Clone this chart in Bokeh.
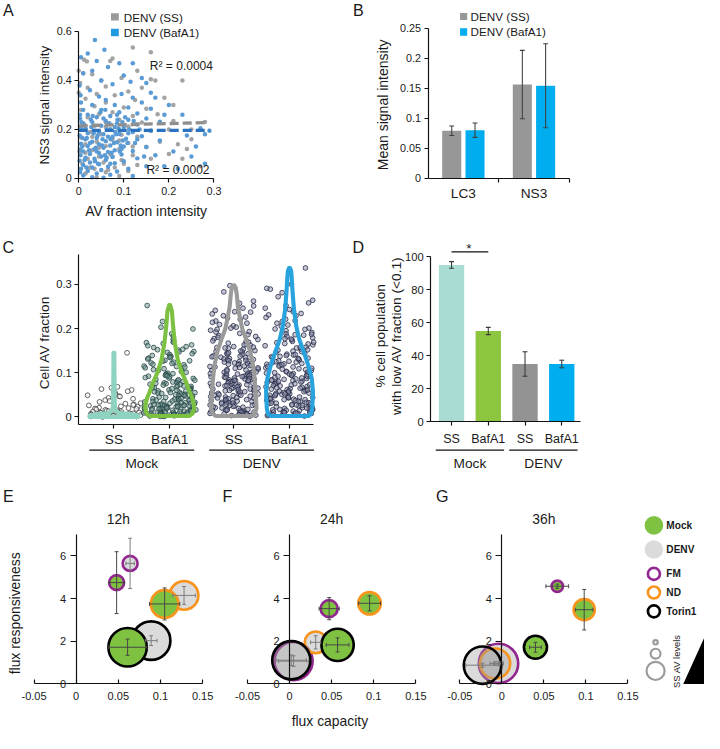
import math
from bokeh.plotting import figure
from bokeh.models import (Range1d, Label, FixedTicker, NumeralTickFormatter,
                          BoxAnnotation, PolyAnnotation, CustomJSTickFormatter)
from bokeh.layouts import column, row
from bokeh.embed import file_html
from bokeh.resources import INLINE
from bokeh.core.properties import value

# ======================= DATA =======================
# --- Panel A: per-cell scatter (AV fraction vs NS3 signal) ---
a_series = ["DENV (SS)", "DENV (BafA1)"]
a_ss_x = [0.120, 0.160, 0.012, 0.018, 0.075, 0.070, 0.000, 0.010, 0.030, 0.130,
          0.170, 0.230, 0.160, 0.095, 0.050, 0.003, 0.020, 0.060, 0.140, 0.110,
          0.000, 0.040, 0.080, 0.190, 0.015, 0.125, 0.060, 0.210, 0.035, 0.100,
          0.150, 0.005, 0.075, 0.045, 0.175, 0.120, 0.020, 0.210, 0.090, 0.060,
          0.140, 0.010, 0.035, 0.110, 0.250, 0.200, 0.070, 0.160, 0.025, 0.050,
          0.095, 0.130, 0.005, 0.240, 0.075, 0.180, 0.040, 0.110, 0.015, 0.060,
          0.150, 0.090, 0.030, 0.002, 0.200, 0.070, 0.120, 0.045, 0.020, 0.160,
          0.095, 0.230, 0.055, 0.008, 0.130, 0.270, 0.080, 0.035, 0.110, 0.060,
          0.015, 0.090, 0.040, 0.250, 0.220, 0.280, 0.030, 0.060, 0.090, 0.120,
          0.015, 0.045, 0.075, 0.100, 0.025, 0.065]
a_ss_y = [0.535, 0.515, 0.485, 0.478, 0.490, 0.480, 0.440, 0.430, 0.425, 0.440,
          0.400, 0.400, 0.405, 0.410, 0.400, 0.390, 0.370, 0.375, 0.370, 0.355,
          0.350, 0.345, 0.340, 0.330, 0.325, 0.320, 0.310, 0.300, 0.295, 0.290,
          0.285, 0.280, 0.270, 0.262, 0.262, 0.255, 0.250, 0.235, 0.240, 0.230,
          0.228, 0.225, 0.215, 0.212, 0.160, 0.200, 0.200, 0.195, 0.190, 0.180,
          0.178, 0.170, 0.168, 0.120, 0.160, 0.150, 0.150, 0.145, 0.140, 0.132,
          0.128, 0.120, 0.115, 0.110, 0.100, 0.100, 0.095, 0.090, 0.080, 0.080,
          0.075, 0.080, 0.065, 0.060, 0.055, 0.050, 0.045, 0.040, 0.030, 0.025,
          0.020, 0.010, 0.005, 0.200, 0.140, 0.230, 0.170, 0.210, 0.155, 0.130,
          0.105, 0.125, 0.090, 0.060, 0.045, 0.035]
a_baf_x = [0.036, 0.057, 0.020, 0.040, 0.120, 0.005, 0.065, 0.090, 0.010, 0.030,
           0.100, 0.140, 0.150, 0.115, 0.050, 0.075, 0.002, 0.025, 0.160, 0.095,
           0.120, 0.004, 0.045, 0.170, 0.060, 0.200, 0.005, 0.140, 0.080, 0.030,
           0.110, 0.160, 0.010, 0.050, 0.090, 0.130, 0.270, 0.190, 0.020, 0.070,
           0.040, 0.150, 0.003, 0.110, 0.060, 0.180, 0.030, 0.085, 0.012, 0.130,
           0.050, 0.100, 0.240, 0.005, 0.070, 0.160, 0.035, 0.120, 0.020, 0.090,
           0.055, 0.002, 0.140, 0.075, 0.040, 0.105, 0.015, 0.180, 0.060, 0.030,
           0.085, 0.125, 0.005, 0.045, 0.070, 0.210, 0.020, 0.100, 0.150, 0.055,
           0.035, 0.003, 0.080, 0.120, 0.010, 0.065, 0.045, 0.025, 0.095, 0.170,
           0.004, 0.050, 0.075, 0.015, 0.130, 0.035, 0.060, 0.002, 0.100, 0.025,
           0.080, 0.190, 0.045, 0.010, 0.150, 0.065, 0.030, 0.005, 0.110, 0.050,
           0.020, 0.085, 0.003, 0.040, 0.280, 0.220, 0.260, 0.070, 0.010, 0.030,
           0.055, 0.120, 0.280, 0.230, 0.250, 0.015, 0.045, 0.065, 0.025, 0.080,
           0.110, 0.095, 0.040, 0.070, 0.130, 0.008, 0.055, 0.085, 0.290,
           0.006, 0.018, 0.028, 0.038, 0.048, 0.058, 0.068, 0.078, 0.088, 0.098,
           0.013, 0.023, 0.033, 0.043, 0.053, 0.063, 0.073, 0.083, 0.093, 0.103,
           0.008, 0.027, 0.042, 0.062, 0.081, 0.097, 0.112,
           0.017, 0.036, 0.052, 0.071, 0.091, 0.108, 0.122,
           0.003, 0.031, 0.059, 0.086, 0.135, 0.145]
a_baf_y = [0.565, 0.525, 0.510, 0.480, 0.470, 0.495, 0.455, 0.470, 0.430, 0.440,
           0.420, 0.410, 0.390, 0.395, 0.400, 0.385, 0.380, 0.360, 0.350, 0.345,
           0.330, 0.340, 0.335, 0.330, 0.320, 0.300, 0.310, 0.310, 0.300, 0.300,
           0.290, 0.285, 0.280, 0.280, 0.270, 0.265, 0.205, 0.260, 0.260, 0.255,
           0.250, 0.245, 0.245, 0.240, 0.235, 0.232, 0.230, 0.225, 0.220, 0.220,
           0.215, 0.210, 0.175, 0.205, 0.200, 0.195, 0.195, 0.190, 0.185, 0.182,
           0.180, 0.175, 0.172, 0.170, 0.165, 0.162, 0.160, 0.155, 0.152, 0.150,
           0.148, 0.145, 0.142, 0.140, 0.135, 0.110, 0.132, 0.130, 0.128, 0.125,
           0.120, 0.118, 0.115, 0.112, 0.110, 0.108, 0.104, 0.100, 0.098, 0.095,
           0.095, 0.090, 0.088, 0.085, 0.082, 0.080, 0.075, 0.072, 0.070, 0.065,
           0.062, 0.050, 0.058, 0.055, 0.050, 0.048, 0.045, 0.040, 0.040, 0.035,
           0.030, 0.028, 0.025, 0.020, 0.060, 0.040, 0.130, 0.015, 0.012, 0.005,
           0.003, 0.010, 0.180, 0.260, 0.090, 0.205, 0.190, 0.170, 0.145, 0.210,
           0.185, 0.120, 0.110, 0.060, 0.160, 0.165, 0.245, 0.260, 0.195,
           0.230, 0.165, 0.210, 0.125, 0.270, 0.095, 0.225, 0.145, 0.205, 0.155,
           0.075, 0.115, 0.185, 0.060, 0.160, 0.200, 0.105, 0.180, 0.135, 0.250,
           0.130, 0.240, 0.175, 0.085, 0.190, 0.230, 0.200,
           0.045, 0.070, 0.135, 0.160, 0.110, 0.145, 0.235,
           0.260, 0.255, 0.280, 0.240, 0.200, 0.090]
a_fit_ss = [0.215, 0.046]    # intercept, slope of the trend line
a_fit_baf = [0.196, 0.0]
a_r2 = ["R² = 0.0004", "R² = 0.0002"]

# --- Panel B: mean signal intensity ---
b_cats = ["LC3", "NS3"]
b_ss = [0.079, 0.156]
b_ss_err = [0.008, 0.057]
b_baf = [0.080, 0.154]
b_baf_err = [0.012, 0.070]

# --- Panel C: cell AV fraction (violin + points) ---
c_groups = ["Mock", "Mock", "DENV", "DENV"]
c_treat = ["SS", "BafA1", "SS", "BafA1"]
c_mock_ss = [0.145, 0.068, 0.066, 0.063, 0.061, 0.058, 0.057, 0.054, 0.051, 0.049,
             0.047, 0.046, 0.043, 0.041, 0.038, 0.036, 0.034, 0.031, 0.030, 0.028,
             0.027, 0.026, 0.024, 0.023, 0.021, 0.020, 0.019, 0.018, 0.017, 0.016,
             0.015, 0.014, 0.013, 0.012, 0.012, 0.011, 0.010, 0.010, 0.009, 0.008,
             0.008, 0.007, 0.007, 0.006, 0.006, 0.005, 0.005, 0.004, 0.004, 0.003,
             0.003, 0.002, 0.002, 0.001, 0.001, 0.000]
c_mock_baf = [0.252, 0.216, 0.203, 0.199, 0.188, 0.183, 0.176, 0.171, 0.169, 0.166,
              0.163, 0.159, 0.157, 0.153, 0.151, 0.148, 0.146, 0.143, 0.141, 0.137,
              0.136, 0.133, 0.131, 0.128, 0.127, 0.124, 0.122, 0.121, 0.118, 0.115,
              0.114, 0.111, 0.109, 0.107, 0.105, 0.103, 0.101, 0.099, 0.097, 0.096,
              0.094, 0.092, 0.091, 0.088, 0.087, 0.085, 0.083, 0.082, 0.080, 0.078,
              0.077, 0.075, 0.074, 0.072, 0.071, 0.069, 0.068, 0.066, 0.065, 0.063,
              0.062, 0.061, 0.059, 0.058, 0.056, 0.055, 0.054, 0.052, 0.051, 0.050,
              0.048, 0.047, 0.046, 0.045, 0.043, 0.042, 0.041, 0.040, 0.039, 0.038,
              0.037, 0.035, 0.034, 0.033, 0.032, 0.031, 0.030, 0.029, 0.028, 0.027,
              0.026, 0.025, 0.025, 0.024, 0.023, 0.022, 0.021, 0.021, 0.020, 0.019,
              0.018, 0.018, 0.017, 0.016, 0.015, 0.015, 0.014, 0.013, 0.012, 0.012,
              0.011, 0.010, 0.010, 0.009, 0.009, 0.008, 0.007, 0.007, 0.006, 0.006,
              0.005, 0.005, 0.004, 0.004, 0.003, 0.003, 0.002, 0.002, 0.001, 0.001,
              0.168, 0.161, 0.152, 0.147, 0.139, 0.134, 0.126, 0.119, 0.113, 0.106,
              0.098, 0.093, 0.089, 0.084, 0.079, 0.076, 0.073, 0.070, 0.067, 0.064,
              0.060, 0.057, 0.053, 0.049, 0.046, 0.044, 0.041, 0.038, 0.036, 0.033,
              0.031, 0.029, 0.027, 0.026, 0.024, 0.022, 0.020, 0.019, 0.017, 0.016,
              0.014, 0.013, 0.011, 0.010, 0.008, 0.007, 0.006, 0.005, 0.004, 0.003,
              0.062, 0.055, 0.048, 0.042, 0.035, 0.028, 0.023, 0.018, 0.012, 0.009]
c_denv_ss = [0.297, 0.283, 0.262, 0.257, 0.251, 0.246, 0.241, 0.237, 0.233, 0.229,
             0.226, 0.221, 0.217, 0.214, 0.209, 0.206, 0.201, 0.198, 0.196, 0.192,
             0.189, 0.186, 0.184, 0.180, 0.177, 0.175, 0.172, 0.169, 0.167, 0.164,
             0.162, 0.159, 0.157, 0.155, 0.153, 0.150, 0.148, 0.147, 0.144, 0.142,
             0.141, 0.138, 0.136, 0.135, 0.132, 0.131, 0.129, 0.127, 0.125, 0.124,
             0.122, 0.120, 0.118, 0.117, 0.115, 0.113, 0.112, 0.110, 0.108, 0.107,
             0.105, 0.103, 0.102, 0.100, 0.099, 0.097, 0.096, 0.094, 0.093, 0.091,
             0.090, 0.088, 0.087, 0.085, 0.084, 0.082, 0.081, 0.079, 0.078, 0.076,
             0.075, 0.073, 0.072, 0.070, 0.069, 0.067, 0.066, 0.064, 0.063, 0.061,
             0.060, 0.058, 0.057, 0.055, 0.054, 0.052, 0.051, 0.049, 0.048, 0.046,
             0.045, 0.043, 0.042, 0.040, 0.039, 0.037, 0.036, 0.034, 0.033, 0.031,
             0.030, 0.028, 0.027, 0.025, 0.024, 0.022, 0.021, 0.019, 0.018, 0.016,
             0.015, 0.013, 0.012, 0.011, 0.010, 0.009, 0.008, 0.007, 0.006, 0.005,
             0.004, 0.003, 0.002,
             0.238, 0.224, 0.212, 0.203, 0.193, 0.182, 0.171, 0.163, 0.156, 0.149,
             0.143, 0.137, 0.130, 0.126, 0.121, 0.116, 0.111, 0.106, 0.101, 0.098,
             0.095, 0.092, 0.089, 0.086, 0.083, 0.080, 0.077, 0.074, 0.071, 0.068,
             0.065, 0.062, 0.059, 0.056, 0.053, 0.050, 0.047, 0.044, 0.041, 0.038,
             0.035, 0.032, 0.029, 0.026, 0.023, 0.020, 0.017, 0.014, 0.011, 0.008,
             0.005, 0.003, 0.134, 0.119, 0.104, 0.091, 0.076, 0.063, 0.049, 0.037,
             0.026, 0.015, 0.007, 0.158, 0.145, 0.128, 0.114, 0.097, 0.083, 0.069]
c_denv_baf = [0.337, 0.300, 0.291, 0.289, 0.272, 0.264, 0.252, 0.246, 0.243, 0.238,
              0.234, 0.229, 0.225, 0.221, 0.216, 0.212, 0.208, 0.205, 0.201, 0.198,
              0.195, 0.191, 0.188, 0.185, 0.182, 0.179, 0.177, 0.174, 0.171, 0.168,
              0.166, 0.163, 0.161, 0.158, 0.156, 0.153, 0.151, 0.149, 0.146, 0.144,
              0.142, 0.140, 0.137, 0.135, 0.133, 0.131, 0.129, 0.127, 0.125, 0.123,
              0.121, 0.119, 0.117, 0.115, 0.113, 0.111, 0.109, 0.107, 0.105, 0.103,
              0.101, 0.099, 0.098, 0.096, 0.094, 0.092, 0.091, 0.089, 0.087, 0.086,
              0.084, 0.082, 0.081, 0.079, 0.077, 0.076, 0.074, 0.072, 0.071, 0.069,
              0.068, 0.066, 0.064, 0.063, 0.061, 0.060, 0.058, 0.057, 0.055, 0.054,
              0.052, 0.051, 0.049, 0.048, 0.046, 0.045, 0.043, 0.042, 0.040, 0.039,
              0.037, 0.036, 0.034, 0.033, 0.031, 0.030, 0.028, 0.027, 0.025, 0.024,
              0.022, 0.021, 0.019, 0.018, 0.016, 0.015, 0.013, 0.012, 0.011, 0.010,
              0.009, 0.008, 0.007, 0.006, 0.005, 0.004, 0.003,
              0.281, 0.258, 0.231, 0.218, 0.199, 0.186, 0.176, 0.165, 0.157, 0.148,
              0.139, 0.132, 0.126, 0.120, 0.114, 0.108, 0.102, 0.097, 0.093, 0.088,
              0.085, 0.080, 0.075, 0.073, 0.070, 0.067, 0.062, 0.059, 0.056, 0.053,
              0.050, 0.047, 0.044, 0.041, 0.038, 0.035, 0.032, 0.029, 0.026, 0.023,
              0.020, 0.017, 0.014, 0.011, 0.008, 0.005, 0.002, 0.141, 0.124, 0.110,
              0.095, 0.083, 0.065, 0.052, 0.039, 0.027, 0.016, 0.009, 0.152, 0.136,
              0.118, 0.100, 0.078, 0.061, 0.044, 0.031, 0.018, 0.010, 0.187, 0.169]
c_values = [c_mock_ss, c_mock_baf, c_denv_ss, c_denv_baf]
# violin outlines: levels and relative density (half-width)
c_vio_y = [[0.0, 0.003, 0.006, 0.009, 0.013, 0.02, 0.05, 0.1, 0.145],
           [0.002, 0.008, 0.02, 0.03, 0.045, 0.057, 0.072, 0.087, 0.1, 0.116, 0.13,
            0.146, 0.165, 0.182, 0.2, 0.219, 0.24, 0.253],
           [0.002, 0.008, 0.02, 0.057, 0.087, 0.116, 0.146, 0.175, 0.197, 0.219, 0.249,
            0.278, 0.292, 0.298],
           [0.002, 0.008, 0.02, 0.057, 0.087, 0.116, 0.146, 0.175, 0.204, 0.241, 0.278,
            0.315, 0.33, 0.337]]
c_vio_d = [[1.0, 1.0, 0.74, 0.22, 0.09, 0.045, 0.03, 0.022, 0.018],
           [0.81, 0.94, 1.0, 0.98, 0.91, 0.81, 0.72, 0.61, 0.5, 0.41, 0.33, 0.28, 0.22,
            0.185, 0.15, 0.12, 0.09, 0.02],
           [0.74, 0.87, 0.93, 0.89, 0.85, 0.79, 0.68, 0.51, 0.36, 0.27, 0.17, 0.12, 0.08,
            0.02],
           [0.78, 0.89, 0.93, 0.96, 0.91, 0.77, 0.59, 0.4, 0.28, 0.185, 0.13, 0.09, 0.067,
            0.02]]

# --- Panel D: % cells with low AV fraction ---
d_groups = ["Mock", "Mock", "DENV", "DENV"]
d_treat = ["SS", "BafA1", "SS", "BafA1"]
d_vals = [95.0, 55.0, 35.0, 35.0]
d_err = [2.0, 2.2, 7.4, 2.3]

# --- Panels E-G: flux capacity vs responsiveness ---
t_labels = ["12h", "24h", "36h"]
treatments = ["FM", "ND", "Torin1"]
mock_x = [[0.048, 0.105, 0.061], [0.047, 0.095, 0.057], [0.066, 0.098, 0.040]]
mock_y = [[4.75, 3.75, 1.72], [3.53, 3.78, 1.83], [4.58, 3.48, 1.72]]
mock_xerr = [[0.009, 0.018, 0.023], [0.012, 0.013, 0.0135], [0.0135, 0.0105, 0.007]]
mock_yerr = [[1.45, 0.75, 0.38], [0.52, 0.35, 0.33], [0.10, 0.95, 0.23]]
mock_av = [[0.81, 2.40, 4.41], [1.00, 1.65, 3.19], [0.51, 1.48, 1.73]]
denv_x = [[0.064, 0.128, 0.089], [0.0047, 0.031, 0.002], [-0.004, -0.008, -0.023]]
denv_y = [[5.65, 4.15, 2.03], [1.07, 1.95, 1.11], [0.96, 0.96, 0.88]]
denv_xerr = [[0.005, 0.0135, 0.007], [0.018, 0.006, 0.018], [0.006, 0.006, 0.020]]
denv_yerr = [[1.18, 0.42, 0.23], [0.25, 0.31, 0.25], [0.08, 0.08, 0.10]]
denv_av = [[0.81, 2.56, 4.41], [4.35, 1.56, 4.35], [4.62, 2.79, 4.20]]

# ======================= STYLE / LAYOUT =======================
S = 704 / 720
FONT = "Liberation Sans"
TXT = "#1a1a1a"
AX = "#111111"
ROW2_BOTTOM = 488


class Panel:
    def __init__(self, X0, Y0, X1, Y1, xcal, ycal):
        (p1, v1), (p2, v2) = xcal
        self.kx = (v2 - v1) / (p2 - p1)
        self.ox = v1 - p1 * self.kx
        (q1, w1), (q2, w2) = ycal
        self.ky = (w2 - w1) / (q2 - q1)
        self.oy = w1 - q1 * self.ky
        w = round(S * X1) - round(S * X0)
        h = round(S * Y1) - round(S * Y0)
        p = figure(width=w, height=h,
                   x_range=Range1d(self.dx(X0), self.dx(X1)),
                   y_range=Range1d(self.dy(Y1), self.dy(Y0)),
                   output_backend="svg", toolbar_location=None, min_border=0)
        p.outline_line_color = None
        p.xgrid.visible = False
        p.ygrid.visible = False
        p.background_fill_color = "white"
        p.border_fill_color = "white"
        self.p = p

    def dx(self, px):
        return self.ox + px * self.kx

    def dy(self, py):
        return self.oy + py * self.ky

    def lx(self, n):
        return abs(n * self.kx)

    def ly(self, n):
        return abs(n * self.ky)

    def text(self, t, rx, ry, fs, align="center", angle=0.0, bold=False, color=TXT):
        self.p.add_layout(Label(x=self.dx(rx), y=self.dy(ry), text=t, text_font=FONT,
                                text_font_size=f"{fs * S:.1f}px", text_align=align,
                                text_baseline="middle", angle=angle, text_color=color,
                                text_font_style="bold" if bold else "normal"))

    def box(self, l, t, r, b, color):
        self.p.add_layout(BoxAnnotation(left=self.dx(l), right=self.dx(r), top=self.dy(t),
                                        bottom=self.dy(b), fill_color=color, fill_alpha=1.0,
                                        line_color=None))


def style_axis(ax, loc, bounds, ticks, fmt=None, fs=11.0, out=4, inn=0, standoff=3,
               hide_labels=False):
    ax.fixed_location = loc
    ax.bounds = bounds
    ax.ticker = FixedTicker(ticks=list(ticks))
    if hide_labels:
        ax.formatter = CustomJSTickFormatter(code="return ''")
    elif fmt is not None:
        ax.formatter = NumeralTickFormatter(format=fmt)
    ax.axis_line_color = AX
    ax.axis_line_width = 1.2 * S
    ax.major_tick_line_color = AX
    ax.major_tick_line_width = 1.2 * S
    ax.major_tick_out = out
    ax.major_tick_in = inn
    ax.minor_tick_line_color = None
    ax.major_label_text_font = FONT
    ax.major_label_text_font_size = f"{fs * S:.1f}px"
    ax.major_label_text_color = TXT
    ax.major_label_standoff = standoff


def ptext(P, xs, ys, labels, fs):
    P.p.text(x=xs, y=ys, text=labels, text_font=value(FONT), text_font_size=f"{fs * S:.1f}px",
             text_align="center", text_baseline="middle", text_color=TXT)


def jitter(n, seed):
    # deterministic scatter offsets in [-1, 1] (layout only, not data)
    out = []
    for j in range(n):
        h = math.sin((j + 1) * 12.9898 + seed * 78.233) * 43758.5453
        out.append((h - math.floor(h)) * 2.0 - 1.0)
    return out


# ---------------- Panel A ----------------
PA = Panel(0, 0, 360, 225, ((80, 0.0), (218.3, 0.3)), ((182, 0.0), (31.7, 0.6)))
p = PA.p
p.scatter(a_ss_x, a_ss_y, size=4.6 * S, fill_color="#a3a3a3", line_color=None)
p.scatter(a_baf_x, a_baf_y, size=4.6 * S, fill_color="#5b9bd5", line_color=None)
for fit, xs, col in [(a_fit_ss, a_ss_x, "#8f8f8f"), (a_fit_baf, a_baf_x, "#2a72bd")]:
    xe = max(xs)
    p.line([0, xe], [fit[0], fit[0] + fit[1] * xe], line_color=col, line_width=3.4 * S,
           line_dash="9 4")
style_axis(p.yaxis[0], 0, (0, 0.6), [0, 0.2, 0.4, 0.6], "0.[0]", fs=11, out=4, standoff=3)
style_axis(p.xaxis[0], 0, (0, 0.3), [0, 0.1, 0.2, 0.3], "0.[0]", fs=11, out=4, standoff=5)
PA.text("A", 8, 10, 16.5)
PA.box(113, 13, 121, 20.5, "#9a9a9a")
PA.box(113, 29, 121, 36.5, "#1e9be0")
PA.text(a_series[0], 126, 17, 12, align="left")
PA.text(a_series[1], 126, 33, 12, align="left")
PA.text(a_r2[0], 185, 67, 12.3)
PA.text(a_r2[1], 181.5, 173, 12.3)
PA.text("NS3 signal intensity", 45, 107, 13.8, angle=math.pi / 2)
PA.text("AV fraction intensity", 149, 215, 14.2)

# ---------------- Panel B ----------------
PB = Panel(360, 0, 720, 225, ((437.3, 0.0), (581.7, 2.0)), ((181.7, 0.0), (28.3, 0.25)))
p = PB.p
bw = 0.27
off = 0.165
cx = [i + 0.5 for i in range(len(b_cats))]
xs_ss = [c - off for c in cx]
xs_baf = [c + off for c in cx]
p.vbar(x=xs_ss, top=b_ss, width=bw, fill_color="#979797", line_color=None)
p.vbar(x=xs_baf, top=b_baf, width=bw, fill_color="#00aeef", line_color=None)
cap = PB.lx(2.5)
for xs, vals, errs in [(xs_ss, b_ss, b_ss_err), (xs_baf, b_baf, b_baf_err)]:
    lo = [v - e for v, e in zip(vals, errs)]
    hi = [v + e for v, e in zip(vals, errs)]
    p.segment(x0=xs, y0=lo, x1=xs, y1=hi, line_color="#404040", line_width=1.1 * S)
    p.segment(x0=[x - cap for x in xs], y0=lo, x1=[x + cap for x in xs], y1=lo,
              line_color="#404040", line_width=1.1 * S)
    p.segment(x0=[x - cap for x in xs], y0=hi, x1=[x + cap for x in xs], y1=hi,
              line_color="#404040", line_width=1.1 * S)
style_axis(p.yaxis[0], 0, (0, 0.25), [0, 0.05, 0.1, 0.15, 0.2, 0.25], "0.[00]", fs=11,
           out=4, standoff=3)
style_axis(p.xaxis[0], 0, (0, len(b_cats)), list(range(1, len(b_cats) + 1)),
           hide_labels=True, out=4)
ptext(PB, cx, [PB.dy(197)] * len(cx), b_cats, 14)
PB.text("B", 366, 10, 16.5)
PB.box(470, 12.7, 477.3, 20, "#979797")
PB.box(470, 28.3, 477.3, 36, "#00aeef")
PB.text(a_series[0], 480.7, 16.5, 12, align="left")
PB.text(a_series[1], 480.7, 32, 12, align="left")
PB.text("Mean signal intensity", 391.7, 106.7, 14.3, angle=math.pi / 2)

# ---------------- Panel C ----------------
PC = Panel(0, 225, 360, ROW2_BOTTOM, ((116, 0.0), (295.6, 3.15)), ((426, 0.0), (290.3, 0.3)))
p = PC.p
grp_order = list(dict.fromkeys(c_groups))
c_pos = [i + 0.15 * grp_order.index(g) for i, g in enumerate(c_groups)]
vio_col = ["#8dd3c0", "#7dc143", "#9a9a9a", "#29a3dd"]
pt_line = ["#3b3b3b", "#234845", "#262a48", "#262a48"]
pt_fill = ["#ffffff", "#6f8f8b", "#8a8ea6", "#8a8ea6"]
pt_falpha = [0.6, 0.5, 0.5, 0.5]
spread_px = [28, 27, 25, 25]
for k, vals in enumerate(c_values):
    jit = jitter(len(vals), k + 1)
    xs = [c_pos[k] + jv * PC.lx(spread_px[k]) for jv in jit]
    p.scatter(xs, vals, size=4.9 * S, fill_color=pt_fill[k], fill_alpha=pt_falpha[k],
              line_color=pt_line[k], line_alpha=0.9, line_width=0.9 * S)
for k in range(len(c_values)):
    half = [d * PC.lx(25) for d in c_vio_d[k]]
    ys = c_vio_y[k]
    px_ = [c_pos[k] + h for h in half] + [c_pos[k] - h for h in reversed(half)]
    py_ = list(ys) + list(reversed(ys))
    p.patch(px_, py_, fill_color=None, line_color=vio_col[k], line_width=4.2 * S,
            line_join="round")
y_axis_base = PC.dy(433.3)
style_axis(p.yaxis[0], PC.dx(80), (y_axis_base, PC.dy(260)), [0, 0.1, 0.2, 0.3], "0.[0]",
           fs=11.5, out=4, standoff=3)
style_axis(p.xaxis[0], y_axis_base, (PC.dx(80), PC.dx(320)), c_pos, hide_labels=True, out=4)
ptext(PC, c_pos, [PC.dy(449.3)] * 4, c_treat, 14)
for g in grp_order:
    idx = [i for i, gg in enumerate(c_groups) if gg == g]
    gc = (c_pos[idx[0]] + c_pos[idx[-1]]) / 2
    p.segment(x0=[gc - 0.94], y0=[PC.dy(460)], x1=[gc + 0.94], y1=[PC.dy(460)],
              line_color=AX, line_width=1.3 * S)
    ptext(PC, [gc], [PC.dy(473.5)], [g], 14)
PC.text("C", 8, 252, 16.5)
PC.text("Cell AV fraction", 45, 350, 14, angle=math.pi / 2)

# ---------------- Panel D ----------------
PD = Panel(360, 225, 720, ROW2_BOTTOM, ((461.3, 0.0), (574, 3.0)), ((431, 0.0), (262, 100.0)))
p = PD.p
d_pos = list(range(len(d_vals)))
d_col = ["#a9ddd3", "#8cc63f", "#939393", "#00aeef"]
p.vbar(x=d_pos, top=d_vals, width=0.69, fill_color=d_col, line_color=None)
cap = PD.lx(2.5)
lo = [v - e for v, e in zip(d_vals, d_err)]
hi = [v + e for v, e in zip(d_vals, d_err)]
p.segment(x0=d_pos, y0=lo, x1=d_pos, y1=hi, line_color="#3a3a3a", line_width=1.1 * S)
p.segment(x0=[x - cap for x in d_pos], y0=lo, x1=[x + cap for x in d_pos], y1=lo,
          line_color="#3a3a3a", line_width=1.1 * S)
p.segment(x0=[x - cap for x in d_pos], y0=hi, x1=[x + cap for x in d_pos], y1=hi,
          line_color="#3a3a3a", line_width=1.1 * S)
# significance bar between Mock SS and Mock BafA1
p.segment(x0=[d_pos[0]], y0=[PD.dy(257)], x1=[d_pos[1]], y1=[PD.dy(257)],
          line_color=AX, line_width=1.3 * S)
PD.text("*", 479, 254, 14)
style_axis(p.yaxis[0], PD.dx(440), (0, 100), [0, 20, 40, 60, 80, 100], "0", fs=11.5,
           out=4, standoff=3)
style_axis(p.xaxis[0], 0, (PD.dx(440), PD.dx(593)), d_pos, hide_labels=True, out=4)
ptext(PD, d_pos, [PD.dy(449)] * 4, d_treat, 12.8)
d_grp_order = list(dict.fromkeys(d_groups))
for g in d_grp_order:
    idx = [i for i, gg in enumerate(d_groups) if gg == g]
    gc = (d_pos[idx[0]] + d_pos[idx[-1]]) / 2
    p.segment(x0=[gc - 0.93], y0=[PD.dy(460)], x1=[gc + 0.93], y1=[PD.dy(460)],
              line_color=AX, line_width=1.3 * S)
    ptext(PD, [gc], [PD.dy(473.5)], [g], 14)
PD.text("D", 366, 252, 16.5)
PD.text("% cell population", 388.3, 343, 14, angle=math.pi / 2)
PD.text("with low AV fraction (<0.1)", 405, 343, 14, angle=math.pi / 2)

# ---------------- Panels E, F, G ----------------
YCAL = ((699.3, 0.0), (568.3, 6.0))
PE = Panel(0, ROW2_BOTTOM, 224, 749, ((34.3, -0.05), (206.7, 0.15)), YCAL)
PF = Panel(224, ROW2_BOTTOM, 440, 749, ((252.7, -0.05), (425.0, 0.15)), YCAL)
PG = Panel(440, ROW2_BOTTOM, 720, 749, ((470.0, -0.05), (641.7, 0.15)), YCAL)
OUTLINE = {"FM": "#92278f", "ND": "#f7941d", "Torin1": "#000000"}
MOCK_FILL = "#7fc241"
DENV_FILL = "#a0a0a0"
DENV_ALPHA = 0.38
RING = 2.7

for t, P in enumerate([PE, PF, PG]):
    p = P.p
    sets = [
        (denv_x[t], denv_y[t], denv_xerr[t], denv_yerr[t], denv_av[t], DENV_FILL, DENV_ALPHA,
         "#7a7a7a"),
        (mock_x[t], mock_y[t], mock_xerr[t], mock_yerr[t], mock_av[t], MOCK_FILL, 1.0,
         "#454545"),
    ]
    for xs, ys, xe, ye, av, fill, alpha, ecol in sets:
        sizes = [(20 * math.sqrt(a) - RING) * S for a in av]
        p.scatter(xs, ys, size=sizes, fill_color=fill, fill_alpha=alpha,
                  line_color=[OUTLINE[tr] for tr in treatments], line_width=RING * S)
    for xs, ys, xe, ye, av, fill, alpha, ecol in sets:
        cx_ = P.lx(2.0)
        cy_ = P.ly(2.0)
        p.segment(x0=[x - e for x, e in zip(xs, xe)], y0=ys,
                  x1=[x + e for x, e in zip(xs, xe)], y1=ys, line_color=ecol, line_width=1.0 * S)
        p.segment(x0=xs, y0=[y - e for y, e in zip(ys, ye)],
                  x1=xs, y1=[y + e for y, e in zip(ys, ye)], line_color=ecol, line_width=1.0 * S)
        for sgn in (-1, 1):
            p.segment(x0=[x + sgn * e for x, e in zip(xs, xe)], y0=[y - cy_ for y in ys],
                      x1=[x + sgn * e for x, e in zip(xs, xe)], y1=[y + cy_ for y in ys],
                      line_color=ecol, line_width=1.0 * S)
            p.segment(x0=[x - cx_ for x in xs], y0=[y + sgn * e for y, e in zip(ys, ye)],
                      x1=[x + cx_ for x in xs], y1=[y + sgn * e for y, e in zip(ys, ye)],
                      line_color=ecol, line_width=1.0 * S)
    style_axis(p.yaxis[0], 0, (0, 7), [0, 2, 4, 6], "0", fs=11.3, out=6, standoff=4)
    style_axis(p.xaxis[0], 0, (-0.05, 0.15), [-0.05, 0, 0.05, 0.1, 0.15], "0.[00]", fs=11.3,
               out=0, inn=4, standoff=8)
    p.add_layout(Label(x=0.05, y=P.dy(530), text=t_labels[t], text_font=FONT,
                       text_font_size=f"{14.2 * S:.1f}px", text_align="center",
                       text_baseline="middle", text_color=TXT))

PE.text("E", 8, 507, 16.5)
PF.text("F", 232, 507, 16.5)
PG.text("G", 452, 507, 16.5)
PE.text("flux responsiveness", 15, 627, 14.2, angle=math.pi / 2)
PF.text("flux capacity", 337, 737, 14.2)

# legend for E-G (drawn in G)
p = PG.p
lx_ = PG.dx(668.3)
p.scatter([lx_], [PG.dy(537)], size=19 * S, fill_color=MOCK_FILL, line_color=None)
p.scatter([lx_], [PG.dy(561.7)], size=19 * S, fill_color=DENV_FILL, fill_alpha=DENV_ALPHA,
          line_color=None)
ring_y = [586.7, 605.7, 625.0]
for tr, ry in zip(treatments, ring_y):
    p.scatter([lx_], [PG.dy(ry)], size=(15 - RING) * S, fill_color="white",
              line_color=OUTLINE[tr], line_width=RING * S)
    PG.text(tr, 681, ry, 10.3, align="left", bold=True)
PG.text("Mock", 681, 537, 10.3, align="left", bold=True)
PG.text("DENV", 681, 562, 10.3, align="left", bold=True)
for ry, d in [(656.7, 6.7), (668.3, 12.3), (686.0, 20.7)]:
    p.scatter([PG.dx(670)], [PG.dy(ry)], size=(d - 2.2) * S, fill_color=None,
              line_color="#9b9b9b", line_width=2.2 * S)
PG.text("SS AV levels", 691, 676, 9.6, angle=math.pi / 2)
p.add_layout(PolyAnnotation(xs=[PG.dx(698.3), PG.dx(721), PG.dx(721)],
                            ys=[PG.dy(699.3), PG.dy(649.3), PG.dy(699.3)],
                            fill_color="black", fill_alpha=1.0, line_color=None))

layout = column(row(PA.p, PB.p), row(PC.p, PD.p), row(PE.p, PF.p, PG.p))
open("out.html", "w").write(file_html(layout, INLINE))
